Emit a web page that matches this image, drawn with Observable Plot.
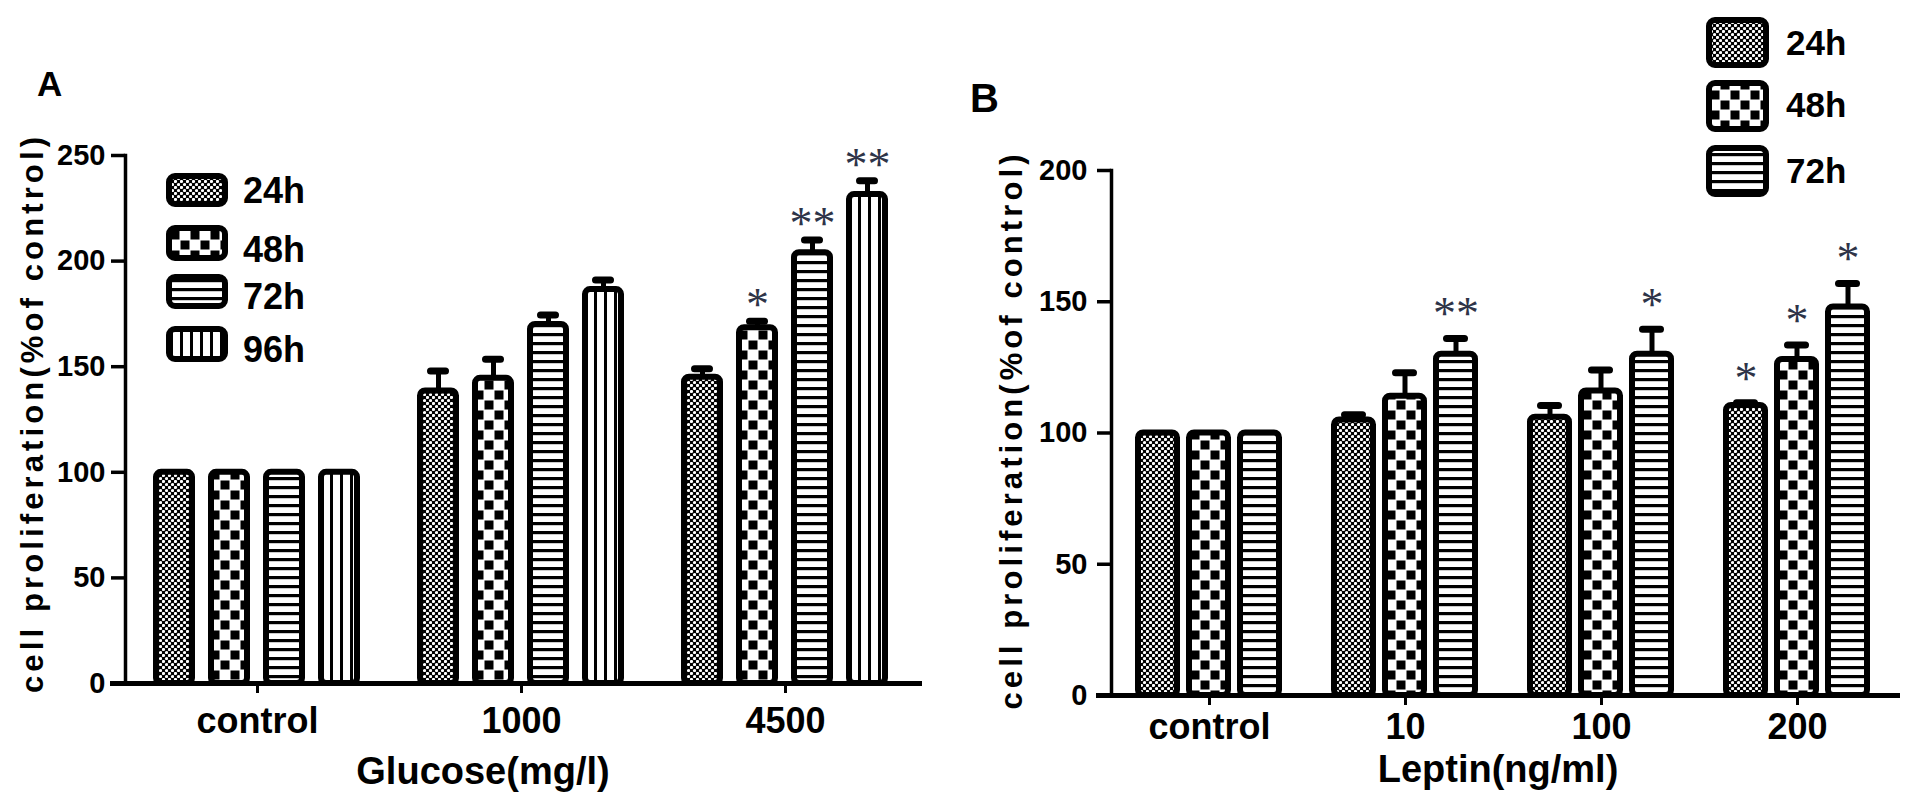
<!DOCTYPE html>
<html>
<head>
<meta charset="utf-8">
<script src="https://cdn.jsdelivr.net/npm/d3@7"></script>
<script src="https://cdn.jsdelivr.net/npm/@observablehq/plot@0.6"></script>
<style>
  body { margin: 0; background: #fff; }
  #wrap { position: relative; width: 1913px; height: 803px; overflow: hidden; background: #fff; }
  #wrap > svg { position: absolute; top: 0; }
</style>
</head>
<body>
<div id="wrap"></div>
<script>
// ---- panel A : glucose ----
const glucoseGroups = ["control", "1000", "4500"];
const glucoseSeries = ["24h", "48h", "72h", "96h"];
const glucose24h = [100, 138.5, 145];
const glucose48h = [100, 144.5, 168.5];
const glucose72h = [100, 170, 204];
const glucose96h = [100, 186.5, 231.5];
const glucose24hErr = [0, 9.5, 4];
const glucose48hErr = [0, 9, 3];
const glucose72hErr = [0, 4.5, 6];
const glucose96hErr = [0, 4.5, 6.5];
const glucose24hSig = ["", "", ""];
const glucose48hSig = ["", "", "*"];
const glucose72hSig = ["", "", "**"];
const glucose96hSig = ["", "", "**"];
const glucoseTicks = [0, 50, 100, 150, 200, 250];

// ---- panel B : leptin ----
const leptinGroups = ["control", "10", "100", "200"];
const leptinSeries = ["24h", "48h", "72h"];
const leptin24h = [100, 105, 106, 110.5];
const leptin48h = [100, 114, 116, 128];
const leptin72h = [100, 130, 130, 148];
const leptin24hErr = [0, 2, 4.5, 1];
const leptin48hErr = [0, 9, 8, 5.5];
const leptin72hErr = [0, 6, 9.5, 9];
const leptin24hSig = ["", "", "", "*"];
const leptin48hSig = ["", "", "", "*"];
const leptin72hSig = ["", "**", "*", "*"];
const leptinTicks = [0, 50, 100, 150, 200];

const patternOf = {"24h": "url(#p24)", "48h": "url(#p48)", "72h": "url(#p72)", "96h": "url(#p96)"};

function tidy(groups, series, means, errs, sigs) {
  const rows = [];
  series.forEach((s, j) => groups.forEach((g, i) => {
    rows.push({group: g, series: s, value: means[j][i], err: errs[j][i], sig: sigs[j][i], pattern: patternOf[s]});
  }));
  return rows;
}

const glucose = tidy(glucoseGroups, glucoseSeries,
  [glucose24h, glucose48h, glucose72h, glucose96h],
  [glucose24hErr, glucose48hErr, glucose72hErr, glucose96hErr],
  [glucose24hSig, glucose48hSig, glucose72hSig, glucose96hSig]);
const leptin = tidy(leptinGroups, leptinSeries,
  [leptin24h, leptin48h, leptin72h],
  [leptin24hErr, leptin48hErr, leptin72hErr],
  [leptin24hSig, leptin48hSig, leptin72hSig]);

function panel(o) {
  const withErr = o.table.filter(d => d.err > 0);
  return Plot.plot({
    width: o.width, height: 803,
    marginLeft: o.marginLeft, marginRight: o.marginRight,
    marginTop: o.marginTop, marginBottom: o.marginBottom,
    style: {fontFamily: "'Liberation Sans', Arial, sans-serif", fontWeight: "bold", color: "#000", background: "transparent", maxWidth: "none", overflow: "visible"},
    fx: {domain: o.groups, padding: 0, label: null},
    x: {domain: o.series, paddingInner: o.padIn, paddingOuter: o.padOut, axis: null},
    y: {domain: o.yDomain, label: null},
    color: {type: "identity"},
    marks: [
      Plot.axisY({ticks: o.ticks, tickSize: 14, tickPadding: o.yPad, fontSize: 29, strokeWidth: 3.5, label: null}),
      Plot.axisFx({anchor: "bottom", tickSize: 10, tickPadding: o.fxPad, fontSize: 36, strokeWidth: 3, label: null}),
      Plot.frame({anchor: "left", facetAnchor: "left", strokeWidth: 3.5}),
      Plot.ruleX(withErr, {fx: "group", x: "series", y1: "value", y2: d => d.value + d.err, strokeWidth: 5}),
      Plot.barY(o.table, {fx: "group", x: "series", y: "value", fill: "pattern", stroke: "#000", strokeWidth: 6, rx: 5}),
      Plot.tickY(withErr, {fx: "group", x: "series", y: d => d.value + d.err, strokeWidth: 7, strokeLinecap: "round", insetLeft: o.capInset, insetRight: o.capInset}),
      Plot.ruleY([0], {strokeWidth: 5, insetLeft: -15, insetRight: -5}),
      Plot.text(o.table.filter(d => d.sig), {fx: "group", x: "series", y: d => d.value + d.err, text: "sig", dy: o.starDy,
        fontSize: 46, fontWeight: "normal", fontFamily: "'Liberation Serif', serif", fill: "#2e3448"})
    ]
  });
}

const wrap = document.getElementById("wrap");

const chartA = panel({table: glucose, groups: glucoseGroups, series: glucoseSeries, yDomain: [0, 250], ticks: glucoseTicks,
  width: 960, marginLeft: 125, marginRight: 43, marginTop: 155, marginBottom: 120,
  padIn: 0.339, padOut: 0.527, yPad: 6, fxPad: 14, capInset: 10.5, starDy: -16});
chartA.style.left = "0px";
wrap.append(chartA);

const chartB = panel({table: leptin, groups: leptinGroups, series: leptinSeries, yDomain: [0, 200], ticks: leptinTicks,
  width: 953, marginLeft: 151, marginRight: 18, marginTop: 170, marginBottom: 108,
  padIn: 0.235, padOut: 0.539, yPad: 10, fxPad: 8, capInset: 10.5, starDy: -24});
chartB.style.left = "960px";
wrap.append(chartB);

// ---- overlay: patterns, panel letters, axis titles, legends ----
const legendA = {x: 166, w: 62, labelX: 243, fontSize: 36, rows: [[173, 34, 203], [225, 36, 262], [274, 35, 309], [326, 36, 362]]};
const legendB = {x: 1706, w: 63, labelX: 1786, fontSize: 35, rows: [[17, 51, 55], [80, 52, 117], [145, 52, 183]]};

const ov = d3.create("svg")
  .attr("width", 1913).attr("height", 803)
  .style("left", "0px").style("pointer-events", "none")
  .attr("font-family", "'Liberation Sans', Arial, sans-serif").attr("font-weight", "bold");

const defs = ov.append("defs");
const p24 = defs.append("pattern").attr("id", "p24").attr("width", 6).attr("height", 6).attr("patternUnits", "userSpaceOnUse");
p24.append("rect").attr("width", 6).attr("height", 6).attr("fill", "#000");
p24.append("circle").attr("cx", 1.5).attr("cy", 1.5).attr("r", 1.6).attr("fill", "#fff");
p24.append("circle").attr("cx", 4.5).attr("cy", 4.5).attr("r", 1.6).attr("fill", "#fff");
const p48 = defs.append("pattern").attr("id", "p48").attr("width", 20).attr("height", 20).attr("patternUnits", "userSpaceOnUse");
p48.append("rect").attr("width", 20).attr("height", 20).attr("fill", "#fff");
p48.append("rect").attr("x", 0.5).attr("y", 0.5).attr("width", 9).attr("height", 9).attr("fill", "#000");
p48.append("rect").attr("x", 10.5).attr("y", 10.5).attr("width", 9).attr("height", 9).attr("fill", "#000");
const p72 = defs.append("pattern").attr("id", "p72").attr("width", 10).attr("height", 9).attr("patternUnits", "userSpaceOnUse");
p72.append("rect").attr("width", 10).attr("height", 9).attr("fill", "#fff");
p72.append("rect").attr("width", 10).attr("height", 3.2).attr("fill", "#000");
const p96 = defs.append("pattern").attr("id", "p96").attr("width", 10).attr("height", 10).attr("patternUnits", "userSpaceOnUse");
p96.append("rect").attr("width", 10).attr("height", 10).attr("fill", "#fff");
p96.append("rect").attr("width", 3).attr("height", 10).attr("fill", "#000");

ov.append("text").attr("x", 37).attr("y", 96).attr("font-size", 35).text("A");
ov.append("text").attr("x", 970).attr("y", 112).attr("font-size", 40).text("B");

ov.append("text").attr("x", 483).attr("y", 784).attr("font-size", 38).attr("text-anchor", "middle").text("Glucose(mg/l)");
ov.append("text").attr("x", 1498).attr("y", 782).attr("font-size", 38).attr("text-anchor", "middle").text("Leptin(ng/ml)");

// rotated y titles, stretched to the reference length
const yTitle = "cell proliferation(%of control)";
ov.append("text").attr("transform", "translate(43,415) rotate(-90)").attr("font-size", 31)
  .attr("text-anchor", "middle").attr("textLength", 556).attr("lengthAdjust", "spacing").text(yTitle);
ov.append("text").attr("transform", "translate(1022,432) rotate(-90)").attr("font-size", 31)
  .attr("text-anchor", "middle").attr("textLength", 555).attr("lengthAdjust", "spacing").text(yTitle);

function legend(L, series) {
  series.forEach((s, i) => {
    const [top, h, base] = L.rows[i];
    ov.append("rect").attr("x", L.x + 3).attr("y", top + 3).attr("width", L.w - 6).attr("height", h - 6)
      .attr("rx", 6).attr("fill", patternOf[s]).attr("stroke", "#000").attr("stroke-width", 6);
    ov.append("text").attr("x", L.labelX).attr("y", base).attr("font-size", L.fontSize).text(s);
  });
}
legend(legendA, glucoseSeries);
legend(legendB, leptinSeries);

wrap.append(ov.node());
</script>
</body>
</html>
